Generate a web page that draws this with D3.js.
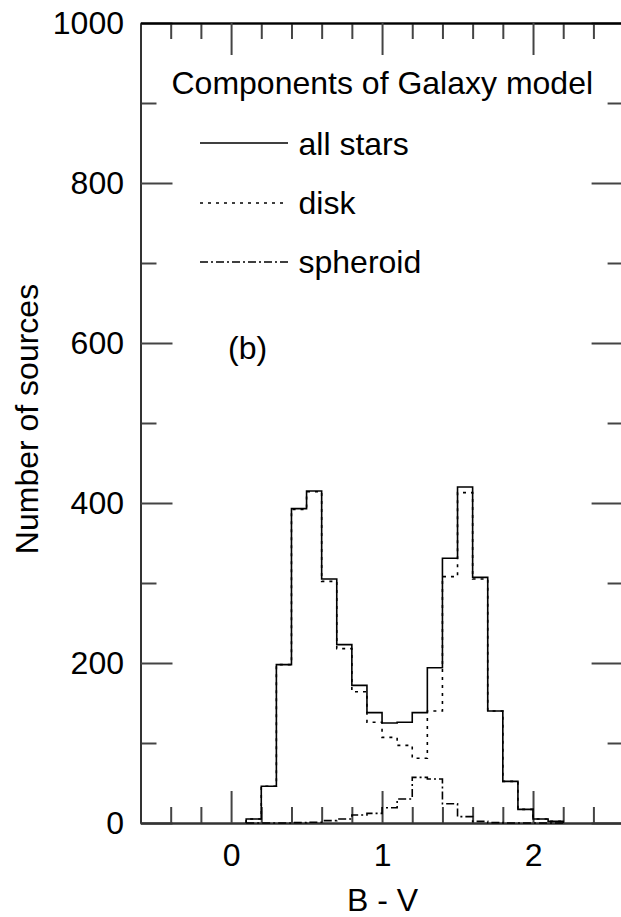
<!DOCTYPE html>
<html>
<head>
<meta charset="utf-8">
<script src="https://cdn.jsdelivr.net/npm/d3@7"></script>
<style>
  html, body { margin: 0; padding: 0; background: #fff; }
  svg { display: block; }
  text { font-family: "Liberation Sans", Arial, Helvetica, sans-serif; fill: #000; }
</style>
</head>
<body>
<svg id="chart" width="621" height="917"></svg>
<script>
// ---- data ----
const binStarts = [0.1, 0.2, 0.3, 0.4, 0.5, 0.6, 0.7, 0.8, 0.9, 1.0, 1.1, 1.2, 1.3, 1.4, 1.5, 1.6, 1.7, 1.8, 1.9, 2.0, 2.1];
const binEnd = 2.2;
const allStars = [5, 46, 198, 393, 415, 305, 223, 172, 138, 125, 126, 138, 194, 331, 420, 307, 140, 52, 17, 5, 2];
const disk     = [5, 46, 198, 392, 414, 302, 218, 164, 126, 107, 97, 81, 140, 308, 413, 305, 140, 52, 17, 5, 2];
const spheroid = [0, 0, 0, 0.5, 1, 3, 5, 10, 12, 19, 30, 57, 55, 24, 8, 2, 0.5, 0, 0, 0, 0];

const xMajorTicks = [0, 1, 2];
const xMinorTicks = [-0.4, -0.2, 0.2, 0.4, 0.6, 0.8, 1.2, 1.4, 1.6, 1.8, 2.2, 2.4];
const yMajorTicks = [0, 200, 400, 600, 800, 1000];
const yMinorTicks = [100, 300, 500, 700, 900];

const legendTitle = "Components of Galaxy model";
const seriesNames = ["all stars", "disk", "spheroid"];
const panelLabel = "(b)";
const xTitle = "B - V";
const yTitle = "Number of sources";

// ---- layout ----
const svg = d3.select("#chart");
const plotLeft = 140.5, plotRight = 623.6, plotTop = 23, plotBottom = 823;
const x = d3.scaleLinear().domain([-0.6, 2.6]).range([plotLeft, plotRight]);
const y = d3.scaleLinear().domain([0, 1000]).range([plotBottom, plotTop]);

const axisColor = "#333";
const fontSize = 32;

function styleAxis(g) {
  g.selectAll(".domain").attr("stroke", axisColor).attr("stroke-width", 2);
  g.selectAll(".tick line").attr("stroke", "#444").attr("stroke-width", 2);
  g.selectAll(".tick text")
    .attr("fill", "#000")
    .style("font-size", fontSize + "px")
    .style("font-family", '"Liberation Sans", Arial, Helvetica, sans-serif');
}

// left axis
svg.append("g").attr("transform", `translate(${plotLeft},0)`)
  .call(d3.axisLeft(y).tickValues(yMinorTicks).tickSize(-16).tickSizeOuter(0).tickFormat(""))
  .call(styleAxis);
svg.append("g").attr("transform", `translate(${plotLeft},0)`)
  .call(d3.axisLeft(y).tickValues(yMajorTicks).tickSize(-32).tickSizeOuter(0).tickPadding(16.5).tickFormat(d3.format("d")))
  .call(styleAxis);
// right axis
svg.append("g").attr("transform", `translate(${plotRight},0)`)
  .call(d3.axisRight(y).tickValues(yMinorTicks).tickSize(-16).tickSizeOuter(0).tickFormat(""))
  .call(styleAxis);
svg.append("g").attr("transform", `translate(${plotRight},0)`)
  .call(d3.axisRight(y).tickValues(yMajorTicks).tickSize(-32).tickSizeOuter(0).tickFormat(""))
  .call(styleAxis);
// bottom axis
svg.append("g").attr("transform", `translate(0,${plotBottom})`)
  .call(d3.axisBottom(x).tickValues(xMinorTicks).tickSize(-16).tickSizeOuter(0).tickFormat(""))
  .call(styleAxis);
svg.append("g").attr("transform", `translate(0,${plotBottom})`)
  .call(d3.axisBottom(x).tickValues(xMajorTicks).tickSize(-32).tickSizeOuter(0).tickPadding(20).tickFormat(d3.format("d")))
  .call(styleAxis);
// top axis
svg.append("g").attr("transform", `translate(0,${plotTop})`)
  .call(d3.axisTop(x).tickValues(xMinorTicks).tickSize(-16).tickSizeOuter(0).tickFormat(""))
  .call(styleAxis);
svg.append("g").attr("transform", `translate(0,${plotTop})`)
  .call(d3.axisTop(x).tickValues(xMajorTicks).tickSize(-32).tickSizeOuter(0).tickFormat(""))
  .call(g => { styleAxis(g); g.select(".domain").attr("stroke", "#000"); });

// ---- histograms ----
function stepPoints(values) {
  const pts = [[binStarts[0], 0]];
  binStarts.forEach((b, i) => pts.push([b, values[i]]));
  pts.push([binEnd, 0]);
  return pts;
}
const line = d3.line()
  .x(d => x(d[0]))
  .y(d => y(d[1]))
  .curve(d3.curveStepAfter);

const styles = [
  { dash: null },
  { dash: "3,5" },
  { dash: "8,3,2,3" }
];
[allStars, disk, spheroid].forEach((vals, i) => {
  svg.append("path")
    .attr("d", line(stepPoints(vals)))
    .attr("fill", "none")
    .attr("stroke", "#000")
    .attr("stroke-width", 1.6)
    .attr("stroke-dasharray", styles[i].dash);
});

// ---- legend ----
svg.append("text")
  .attr("x", 171.5).attr("y", 94)
  .style("font-size", fontSize + "px")
  .text(legendTitle);

const legendY = [143, 203, 262];
const legendTextY = [155, 214, 273];
seriesNames.forEach((name, i) => {
  svg.append("line")
    .attr("x1", 200).attr("x2", 288)
    .attr("y1", legendY[i]).attr("y2", legendY[i])
    .attr("stroke", "#000").attr("stroke-width", 1.6)
    .attr("stroke-dasharray", styles[i].dash);
  svg.append("text")
    .attr("x", 298.5).attr("y", legendTextY[i])
    .style("font-size", fontSize + "px")
    .text(name);
});

svg.append("text")
  .attr("x", 228).attr("y", 359)
  .style("font-size", fontSize + "px")
  .text(panelLabel);

// ---- axis titles ----
svg.append("text")
  .attr("x", 382.5).attr("y", 911)
  .attr("text-anchor", "middle")
  .style("font-size", fontSize + "px")
  .text(xTitle);

svg.append("text")
  .attr("transform", "translate(38,419) rotate(-90)")
  .attr("text-anchor", "middle")
  .style("font-size", fontSize + "px")
  .text(yTitle);
</script>
</body>
</html>
